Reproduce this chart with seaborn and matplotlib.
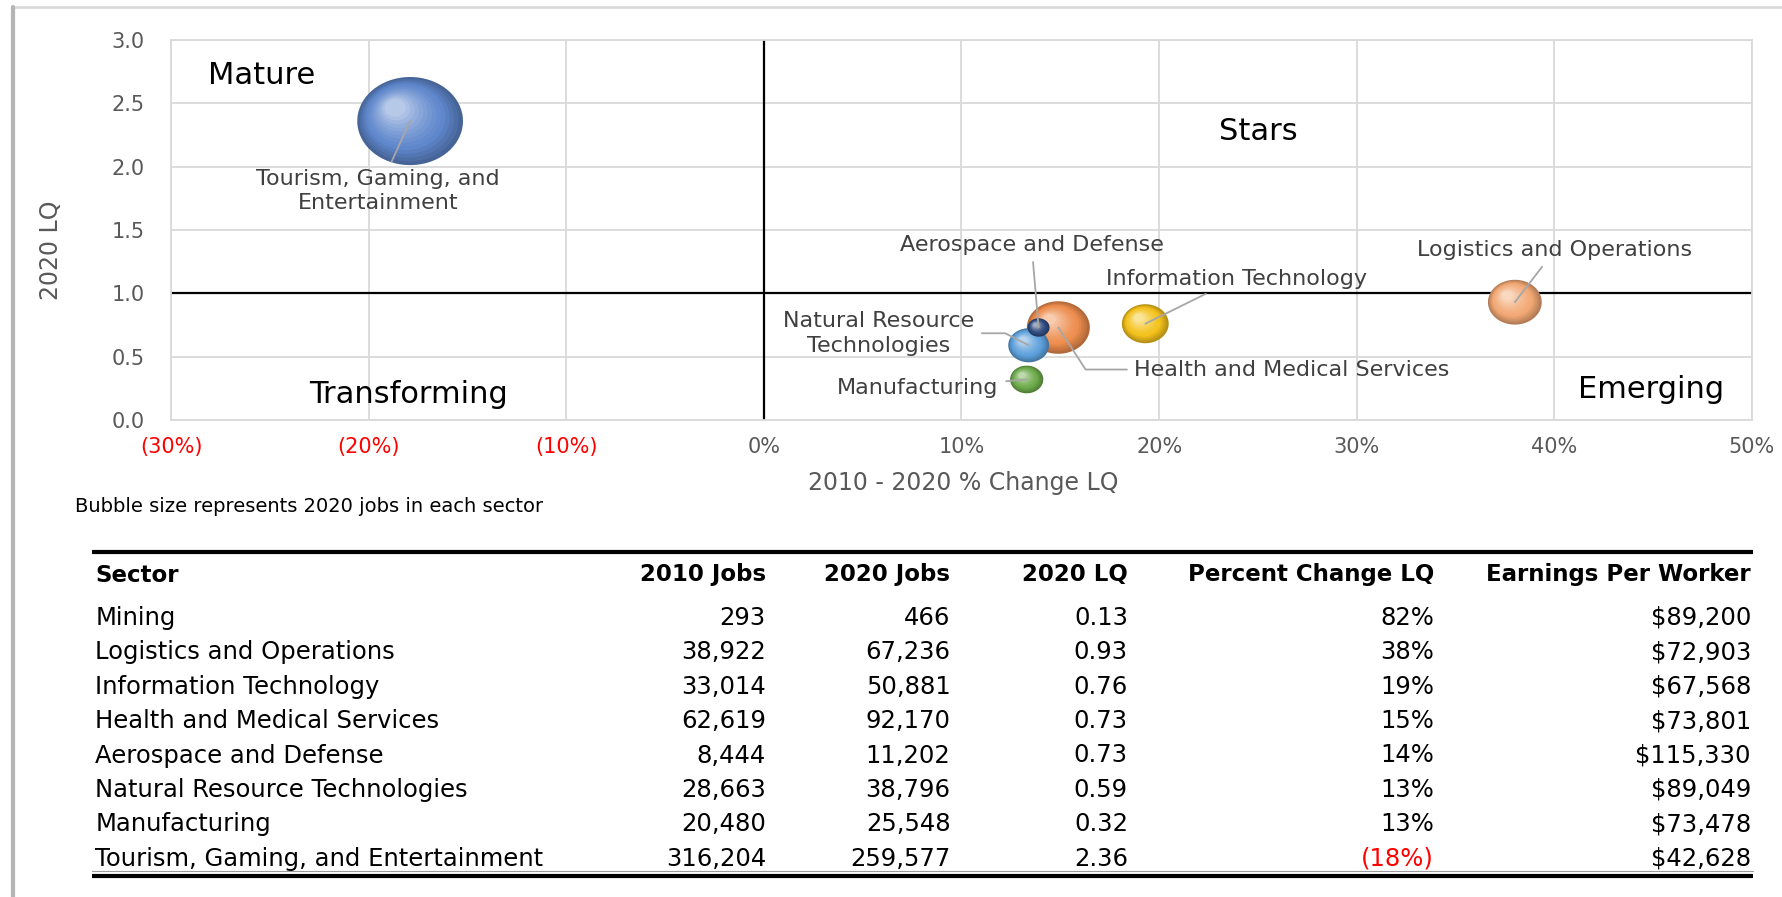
import numpy as np
import pandas as pd
import matplotlib
matplotlib.use('Agg')
import matplotlib.pyplot as plt
import matplotlib.colors as mcolors
from matplotlib.path import Path
from matplotlib.markers import MarkerStyle
import seaborn as sns

# ===== data =====
sectors = ['Mining', 'Logistics and Operations', 'Information Technology',
           'Health and Medical Services', 'Aerospace and Defense',
           'Natural Resource Technologies', 'Manufacturing',
           'Tourism, Gaming, and Entertainment']
jobs_2010 = [293, 38922, 33014, 62619, 8444, 28663, 20480, 316204]
jobs_2020 = [466, 67236, 50881, 92170, 11202, 38796, 25548, 259577]
lq_2020 = [0.13, 0.93, 0.76, 0.73, 0.73, 0.59, 0.32, 2.36]
pct_change_lq = [0.82, 0.380, 0.193, 0.149, 0.139, 0.134, 0.133, -0.179]
earnings = [89200, 72903, 67568, 73801, 115330, 89049, 73478, 42628]

x_ticks = [-0.3, -0.2, -0.1, 0.0, 0.1, 0.2, 0.3, 0.4, 0.5]
y_ticks = [0.0, 0.5, 1.0, 1.5, 2.0, 2.5, 3.0]
table_headers = ['Sector', '2010 Jobs', '2020 Jobs', '2020 LQ',
                 'Percent Change LQ', 'Earnings Per Worker']
quadrants = ['Mature', 'Stars', 'Transforming', 'Emerging']

# ===== styles / layout =====
W, H = 1783, 897
S_MAX = 5800          # marker area (pt^2) of the biggest bubble
N_LAYERS = 14         # layers used to fake the 3D sphere shading
palette = {
    'Mining': '#A5A5A5',
    'Logistics and Operations': '#F2A874',
    'Information Technology': '#F4C21C',
    'Health and Medical Services': '#EE8D4E',
    'Aerospace and Defense': '#2F4A7E',
    'Natural Resource Technologies': '#5DA0DB',
    'Manufacturing': '#6DAA4A',
    'Tourism, Gaming, and Entertainment': '#5F87CC',
}
# label text, offset from bubble centre (pixels), ha, connection style
bubble_labels = {
    'Tourism, Gaming, and Entertainment': ('Tourism, Gaming, and\nEntertainment', (-32, -70), 'center', 'arc3'),
    'Aerospace and Defense': ('Aerospace and Defense', (-7, 83), 'center', 'arc3'),
    'Information Technology': ('Information Technology', (91, 45), 'center', 'arc3'),
    'Logistics and Operations': ('Logistics and Operations', (40, 52), 'center', 'arc3'),
    'Natural Resource Technologies': ('Natural Resource\nTechnologies', (-150, 12), 'center', 'angle,angleA=0,angleB=-27,rad=0'),
    'Manufacturing': ('Manufacturing', (-28, -9), 'right', 'arc3'),
    'Health and Medical Services': ('Health and Medical Services', (76, -42), 'left', 'angle,angleA=0,angleB=-57,rad=0'),
}
quadrant_pos = {'Mature': (-0.254, 2.72), 'Stars': (0.25, 2.28),
                'Transforming': (-0.18, 0.20), 'Emerging': (0.449, 0.24)}

GRAY_TXT = '#595959'
LABEL_TXT = '#404040'
GRID_C = '#D9D9D9'

sns.set_style('white')
plt.rcParams['font.family'] = ['DejaVu Sans']

df = pd.DataFrame({'sector': sectors, 'jobs_2010': jobs_2010, 'jobs_2020': jobs_2020,
                   'lq_2020': lq_2020, 'pct_change': pct_change_lq, 'earnings': earnings})
max_jobs = df['jobs_2020'].max()


def shade(c, t):
    rgb = np.array(mcolors.to_rgb(c))
    if t < 0.3:
        return tuple(rgb * (0.74 + 0.26 * t / 0.3))
    u = (t - 0.3) / 0.7
    return tuple(rgb + (1 - rgb) * 0.55 * u ** 1.3)


def sphere_marker(t):
    # ellipse (a bit wider than tall), shrinking toward the upper-left highlight
    th = np.linspace(0, 2 * np.pi, 72)
    r = 1 - 0.8 * t
    cx, cy = -0.28 * t, 0.30 * t
    ex = cx + r * np.cos(th)
    ey = (cy + r * np.sin(th)) / 1.2
    corners = [(-1, -1), (1, -1), (1, 1), (-1, 1)]   # fixes marker normalisation
    verts = corners + list(zip(ex, ey))
    codes = [Path.MOVETO] * 4 + [Path.MOVETO] + [Path.LINETO] * (len(th) - 2) + [Path.CLOSEPOLY]
    return MarkerStyle(Path(verts, codes))


fig = plt.figure(figsize=(W / 100, H / 100), dpi=100)
ax = fig.add_axes([171 / W, 1 - 420 / H, (1752 - 171) / W, (420 - 40) / H])

# bubbles, biggest first so the small ones sit on top
for _, row in df.sort_values('jobs_2020', ascending=False).iterrows():
    sub = df[df['sector'] == row['sector']]
    for t in np.linspace(0, 1, N_LAYERS):
        sns.scatterplot(data=sub, x='pct_change', y='lq_2020', size='jobs_2020',
                        sizes=(0, S_MAX), size_norm=(0, max_jobs),
                        color=shade(palette[row['sector']], t), marker=sphere_marker(t),
                        linewidth=0, edgecolor='none', legend=False, ax=ax, zorder=3)

ax.set_xlim(-0.3, 0.5)
ax.set_ylim(0, 3)
ax.set_xticks(x_ticks)
ax.set_yticks(y_ticks)
ax.set_xticklabels([f'({abs(v) * 100:.0f}%)' if v < 0 else f'{v * 100:.0f}%' for v in x_ticks])
ax.set_yticklabels([f'{v:.1f}' for v in y_ticks])
for lab, v in zip(ax.get_xticklabels(), x_ticks):
    lab.set_color('#FF0000' if v < 0 else GRAY_TXT)
for lab in ax.get_yticklabels():
    lab.set_color(GRAY_TXT)
ax.tick_params(axis='y', length=0, pad=19, labelsize=15)
ax.tick_params(axis='x', length=0, pad=12, labelsize=15)
ax.grid(True, color=GRID_C, lw=1.3)
ax.set_axisbelow(True)
for sp in ax.spines.values():
    sp.set_color(GRID_C)
    sp.set_linewidth(1.3)
ax.axhline(1.0, color='black', lw=1.6, zorder=2)
ax.axvline(0.0, color='black', lw=1.6, zorder=2)

ax.set_xlabel('2010 - 2020 % Change LQ', fontsize=17, color=GRAY_TXT)
ax.set_ylabel('2020 LQ', fontsize=17, color=GRAY_TXT)
ax.xaxis.label.set_va('center')
ax.yaxis.label.set_va('center')
ax.xaxis.set_label_coords(0.501, -0.166)
ax.yaxis.set_label_coords(-0.076, 0.447)

for q in quadrants:
    qx, qy = quadrant_pos[q]
    ax.text(qx, qy, q, fontsize=22, color='black', ha='center', va='center', zorder=4)

for sec, (txt, off, ha, cs) in bubble_labels.items():
    r = df[df['sector'] == sec].iloc[0]
    ax.annotate(txt, xy=(r['pct_change'], r['lq_2020']), xytext=off,
                textcoords='offset pixels', ha=ha, va='center', fontsize=16,
                color=LABEL_TXT, linespacing=1.3, zorder=6,
                arrowprops=dict(arrowstyle='-', color='#A6A6A6', lw=1.3,
                                shrinkA=3, shrinkB=0, connectionstyle=cs))

# ===== overlay in pixel coordinates: note, table, frame =====
lay = fig.add_axes([0, 0, 1, 1], zorder=-1)
lay.set_xlim(0, W)
lay.set_ylim(H, 0)
lay.axis('off')
lay.patch.set_visible(False)

lay.plot([13, W], [7, 7], color='#DADADA', lw=2)
lay.plot([13, 13], [7, H], color='#B5B5B5', lw=3)

lay.text(75, 506, 'Bubble size represents 2020 jobs in each sector',
         fontsize=14, color='black', va='center')

col_x = [95.5, 766, 950.5, 1128, 1434, 1751]
header_y = 575
row_y0, row_dy = 617.7, 34.45

lay.plot([92, 1753], [552, 552], color='black', lw=3, solid_capstyle='butt')
lay.plot([92, 1753], [876, 876], color='black', lw=3, solid_capstyle='butt')
lay.plot([92, 1753], [871.5, 871.5], color='#9A9A9A', lw=0.8)

for j, (hd, cx) in enumerate(zip(table_headers, col_x)):
    lay.text(cx, header_y, hd, fontsize=16.5, fontweight='bold', color='black',
             ha='left' if j == 0 else 'right', va='center')

for i, r in df.iterrows():
    yy = row_y0 + i * row_dy
    pc = r['pct_change']
    cells = [r['sector'], f"{r['jobs_2010']:,}", f"{r['jobs_2020']:,}", f"{r['lq_2020']:.2f}",
             f"({abs(pc) * 100:.0f}%)" if pc < 0 else f"{pc * 100:.0f}%",
             f"${r['earnings']:,}"]
    for j, (c, cx) in enumerate(zip(cells, col_x)):
        col = '#FF0000' if (j == 4 and pc < 0) else 'black'
        lay.text(cx, yy, c, fontsize=17.5, color=col,
                 ha='left' if j == 0 else 'right', va='center')

fig.savefig('out.png', dpi=100)
